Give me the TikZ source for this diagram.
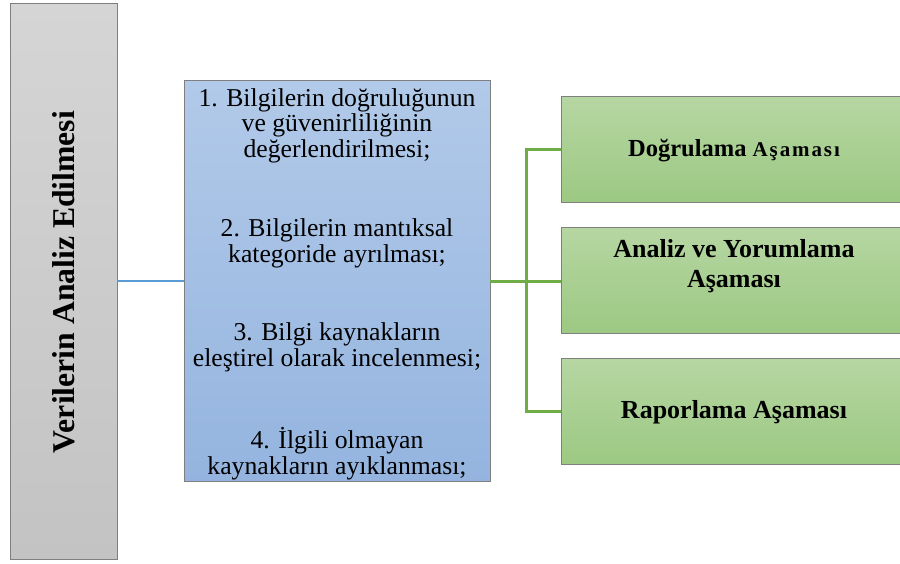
\documentclass[tikz,border=0pt]{standalone}
\usepackage{fontspec}
\setmainfont{Liberation Serif}
\definecolor{edgegray}{HTML}{7F7F7F}
\definecolor{grayTop}{HTML}{D5D5D5}
\definecolor{grayBot}{HTML}{C3C3C3}
\definecolor{blueTop}{HTML}{B2CAE9}
\definecolor{blueBot}{HTML}{94B4DF}
\definecolor{greenTop}{HTML}{B6D6A2}
\definecolor{greenBot}{HTML}{9CC983}
\definecolor{blueLine}{HTML}{5B9BD5}
\definecolor{greenLine}{HTML}{70AD47}
\tikzset{
  panel/.style={draw=edgegray, line width=1pt, rectangle, inner sep=0pt, outer sep=0pt},
  titlebox/.style={panel, top color=grayTop, bottom color=grayBot,
    minimum width=107pt, minimum height=556pt},
  listbox/.style={panel, top color=blueTop, bottom color=blueBot,
    minimum width=306pt, minimum height=401pt},
  stagebox/.style={panel, top color=greenTop, bottom color=greenBot,
    minimum width=339.5pt, minimum height=106pt},
  % multi-line nodes: the base anchor sits on the last line
  listtext/.style={align=center, inner sep=0pt, anchor=base,
    font=\fontsize{25.7}{25.5}\selectfont},
  stagetext/.style={align=center, inner sep=0pt, anchor=base,
    font=\bfseries\fontsize{26}{30}\selectfont},
  blueconn/.style={draw=blueLine, line width=2.5pt},
  greenconn/.style={draw=greenLine, line width=3pt},
}
\begin{document}
\begin{tikzpicture}[x=1pt, y=-1pt]
  \useasboundingbox (0,0) rectangle (900,563);

  % main boxes
  \node[titlebox] (title) at (63.5,281) {};
  \node[rotate=90, inner sep=0pt, font=\bfseries\fontsize{31.7}{34}\selectfont]
    (titletext) at (63.5,282) {Verilerin Analiz Edilmesi};

  \node[listbox] (list) at (337,280.5) {};

  \node[stagebox] (verify) at (730.75,149) {};
  \node[stagebox] (analyse) at (730.75,280) {};
  \node[stagebox] (report) at (730.75,411.5) {};

  % connectors
  \draw[blueconn] (title.east |- 0,281) -- (list.west |- 0,281);
  \coordinate (fork) at (526,281);
  \draw[greenconn] (list.east |- fork) -- (fork);
  \draw[greenconn] (verify.west) -| (fork) |- (report.west);
  \draw[greenconn] (fork) -- (fork -| analyse.west);

  % list items
  \node[listtext] (item1) at (337,157)
    {1. Bilgilerin doğruluğunun\\ve güvenirliliğinin\\değerlendirilmesi;};
  \node[listtext] (item2) at (337,262)
    {2. Bilgilerin mantıksal\\kategoride ayrılması;};
  \node[listtext] (item3) at (337,366)
    {3. Bilgi kaynakların\\eleştirel olarak incelenmesi;};
  \node[listtext] (item4) at (337,474)
    {4. İlgili olmayan\\kaynakların ayıklanması;};

  % stage labels
  \node[stagetext, font=\bfseries\fontsize{24.5}{28}\selectfont] (verifytext) at (734,156)
    {Doğrulama {\fontsize{21}{24}\selectfont\addfontfeature{LetterSpace=9}Aşaması}};
  \node[stagetext] (analysetext) at (734,287)
    {Analiz ve Yorumlama\\Aşaması};
  \node[stagetext] (reporttext) at (734,418.5)
    {Raporlama Aşaması};
\end{tikzpicture}
\end{document}
